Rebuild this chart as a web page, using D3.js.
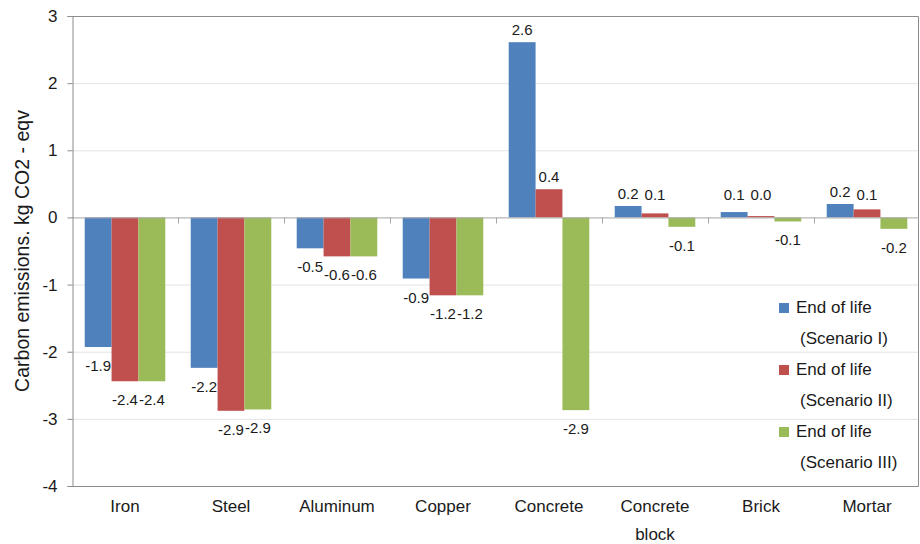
<!DOCTYPE html>
<html>
<head>
<meta charset="utf-8">
<script src="https://cdn.jsdelivr.net/npm/d3@7/dist/d3.min.js"></script>
<style>
  html, body { margin: 0; padding: 0; background: #fff; }
  svg { display: block; font-family: "Liberation Sans", Arial, sans-serif; }
</style>
</head>
<body>
<svg id="chart" width="920" height="544"></svg>
<script>
// Carbon emissions at end of life per material, three scenarios
const categories = ["Iron", "Steel", "Aluminum", "Copper", "Concrete", "Concrete block", "Brick", "Mortar"];
const seriesNames = ["End of life (Scenario I)", "End of life (Scenario II)", "End of life (Scenario III)"];
const scenarioI   = [-1.93, -2.24, -0.46, -0.91, 2.61, 0.17, 0.08, 0.20];
const scenarioII  = [-2.44, -2.88, -0.58, -1.16, 0.42, 0.06, 0.02, 0.12];
const scenarioIII = [-2.44, -2.86, -0.58, -1.16, -2.87, -0.14, -0.06, -0.17];
const yTicks = [3, 2, 1, 0, -1, -2, -3, -4];
const colors = ["#4F81BD", "#C0504D", "#9BBB59"];

const seriesValues = [scenarioI, scenarioII, scenarioIII];

// plain hyphen for negative numbers
const locale = d3.formatLocale({ decimal: ".", thousands: ",", grouping: [3], currency: ["", ""], minus: "-" });
const fmtValue = locale.format(".1f");
const fmtTick = locale.format("d");

const svg = d3.select("#chart");
const plot = { left: 72, right: 920, top: 16, bottom: 486 };

const y = d3.scaleLinear().domain([-4, 3]).range([plot.bottom, plot.top]);
const x0 = d3.scaleBand().domain(categories).range([plot.left, plot.right])
  .paddingInner(0.24).paddingOuter(0.12);
const x1 = d3.scaleBand().domain(d3.range(seriesNames.length)).range([0, x0.bandwidth()]);
const slot = d3.scaleLinear().domain([0, categories.length]).range([plot.left, plot.right]);

// horizontal gridlines
svg.append("g").selectAll("line")
  .data(yTicks.filter(t => t !== 0 && t !== 3 && t !== -4))
  .join("line")
  .attr("x1", plot.left).attr("x2", plot.right - 1)
  .attr("y1", d => y(d) + 0.5).attr("y2", d => y(d) + 0.5)
  .attr("stroke", "#e3e3e3").attr("stroke-width", 1);

// plot frame (top, right, bottom)
svg.append("path")
  .attr("d", `M${plot.left},${y(3) + 0.5}H${plot.right - 1.5}V${y(-4) + 0.5}H${plot.left}`)
  .attr("fill", "none").attr("stroke", "#8c8c8c").attr("stroke-width", 1);

// bars
const groups = svg.append("g").selectAll("g")
  .data(categories)
  .join("g")
  .attr("transform", c => `translate(${x0(c)},0)`);

groups.selectAll("rect")
  .data((c, i) => seriesValues.map((vals, s) => ({ s, v: vals[i] })))
  .join("rect")
  .attr("x", d => x1(d.s))
  .attr("width", x1.bandwidth())
  .attr("y", d => y(Math.max(0, d.v)))
  .attr("height", d => Math.abs(y(d.v) - y(0)))
  .attr("fill", d => colors[d.s]);

// value labels
groups.selectAll("text")
  .data((c, i) => seriesValues.map((vals, s) => ({ s, v: vals[i] })))
  .join("text")
  .attr("x", d => x1(d.s) + x1.bandwidth() / 2)
  .attr("y", d => d.v >= 0 ? Math.min(y(d.v) - 7, y(0) - 17) : y(d.v) + 24)
  .attr("text-anchor", "middle")
  .attr("font-size", 15)
  .attr("fill", "#1a1a1a")
  .text(d => fmtValue(d.v));

// zero line with category separators
svg.append("line")
  .attr("x1", plot.left).attr("x2", plot.right - 1)
  .attr("y1", y(0) + 0.5).attr("y2", y(0) + 0.5)
  .attr("stroke", "#a6a6a6");
svg.append("g").selectAll("line")
  .data(d3.range(1, categories.length))
  .join("line")
  .attr("x1", d => Math.round(slot(d)) + 0.5).attr("x2", d => Math.round(slot(d)) + 0.5)
  .attr("y1", y(0)).attr("y2", y(0) + 6)
  .attr("stroke", "#a6a6a6");

// y axis
const yAxis = svg.append("g")
  .attr("transform", `translate(${plot.left + 0.5},0)`)
  .call(d3.axisLeft(y).tickValues(yTicks).tickFormat(fmtTick).tickSize(5).tickPadding(10));
yAxis.select(".domain").attr("stroke", "#8c8c8c");
yAxis.selectAll(".tick line").attr("stroke", "#8c8c8c");
yAxis.selectAll(".tick text")
  .attr("font-size", 17)
  .attr("font-family", "Liberation Sans, Arial, sans-serif")
  .attr("fill", "#1a1a1a");

// y axis title
svg.append("text")
  .attr("transform", `translate(29,${(plot.top + plot.bottom) / 2}) rotate(-90)`)
  .attr("text-anchor", "middle")
  .attr("font-size", 19.5)
  .attr("fill", "#1a1a1a")
  .text("Carbon emissions. kg CO2 - eqv");

// category labels (wrapped onto two lines where needed)
const catLabels = svg.append("g").selectAll("text")
  .data(categories)
  .join("text")
  .attr("x", c => x0(c) + x0.bandwidth() / 2)
  .attr("y", 512)
  .attr("text-anchor", "middle")
  .attr("font-size", 17)
  .attr("fill", "#1a1a1a");
catLabels.selectAll("tspan")
  .data(c => c === "Concrete block" ? ["Concrete", "block"] : [c])
  .join("tspan")
  .attr("x", function () { return d3.select(this.parentNode).attr("x"); })
  .attr("dy", (d, i) => i === 0 ? 0 : 28)
  .text(d => d);

// legend
const legend = svg.append("g").attr("transform", "translate(779,303)");
const item = legend.selectAll("g")
  .data(seriesNames)
  .join("g")
  .attr("transform", (d, i) => `translate(0,${i * 62})`);
item.append("rect")
  .attr("width", 10).attr("height", 10)
  .attr("fill", (d, i) => colors[i]);
item.append("text")
  .attr("x", 17).attr("y", 10)
  .attr("font-size", 17)
  .attr("fill", "#1a1a1a")
  .text(d => d.split(" (")[0]);
item.append("text")
  .attr("x", 21).attr("y", 41)
  .attr("font-size", 17)
  .attr("fill", "#1a1a1a")
  .text(d => "(" + d.split(" (")[1]);
</script>
</body>
</html>
